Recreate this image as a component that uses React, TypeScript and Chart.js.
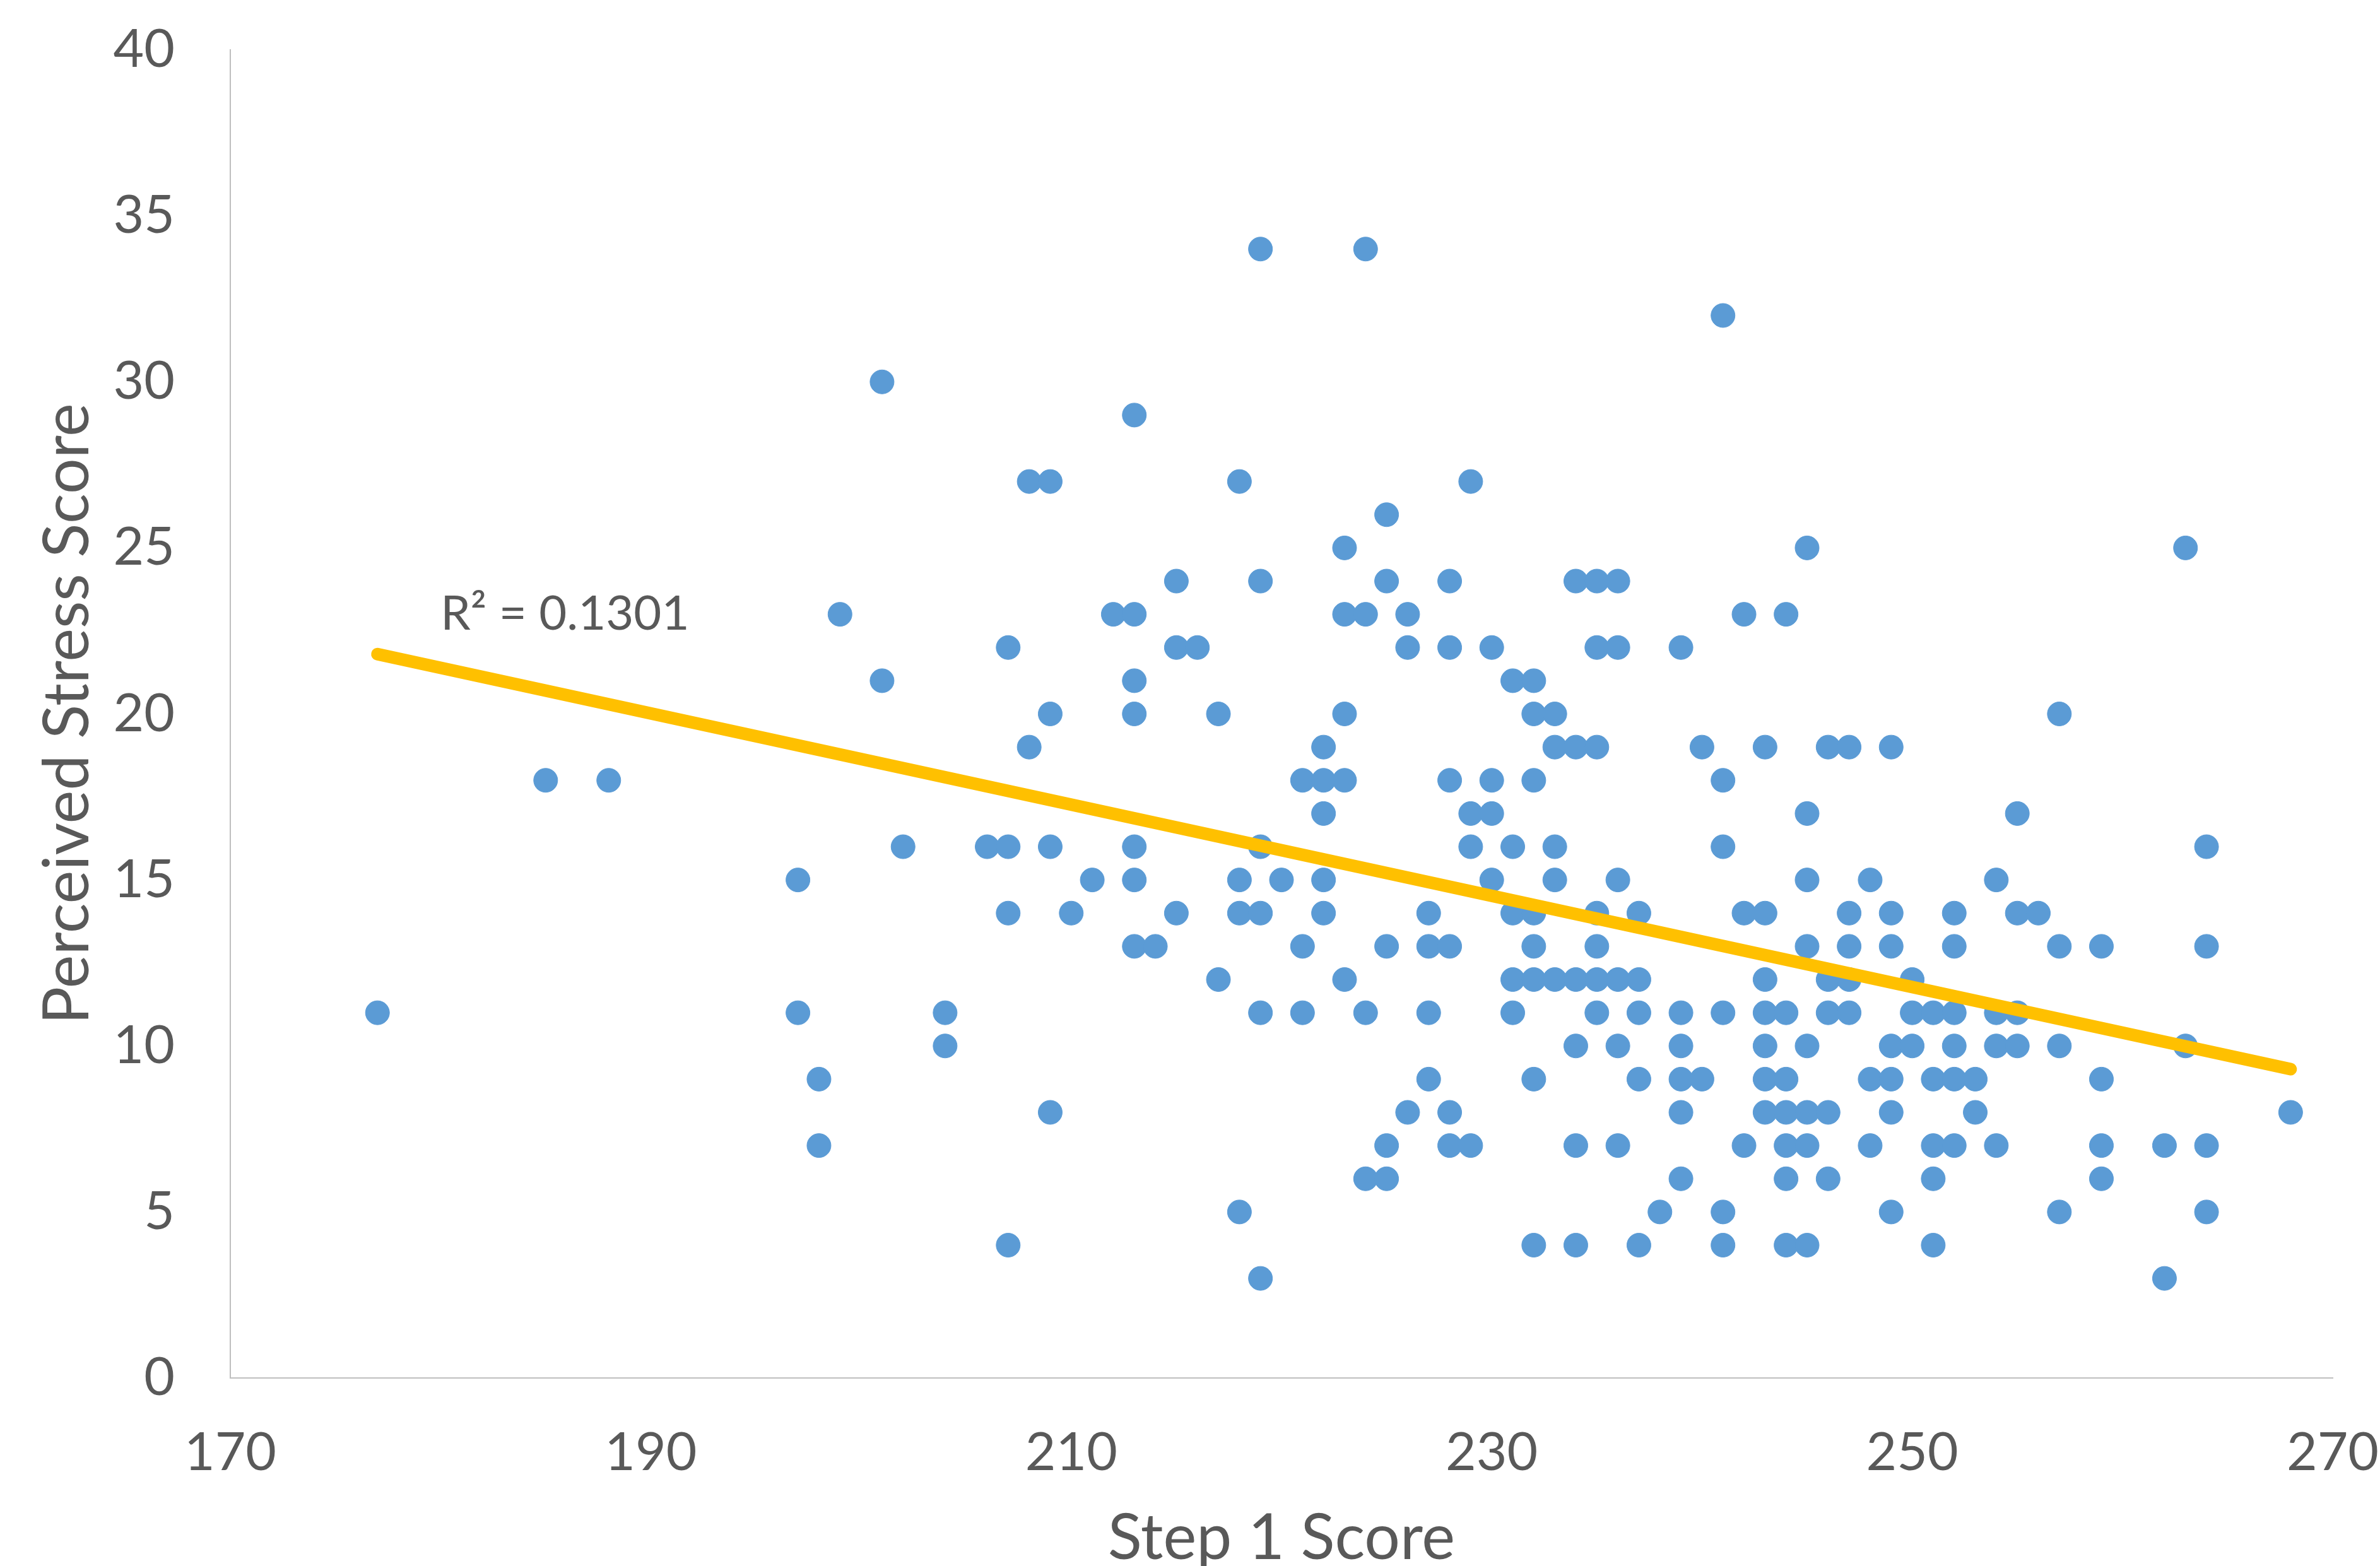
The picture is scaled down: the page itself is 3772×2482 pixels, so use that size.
import React, { useEffect, useRef } from "react";
import { Chart, registerables } from "chart.js";

Chart.register(...registerables);

// Step 1 score (x) for each respondent
const stepScores = [
  177,
  185,
  188,
  197, 197,
  198, 198,
  199,
  201, 201,
  202,
  204, 204,
  206,
  207, 207, 207, 207,
  208, 208,
  209, 209, 209, 209,
  210,
  211,
  212,
  213, 213, 213, 213, 213, 213, 213,
  214,
  215, 215, 215,
  216,
  217, 217,
  218, 218, 218, 218,
  219, 219, 219, 219, 219, 219,
  220,
  221, 221, 221,
  222, 222, 222, 222, 222,
  223, 223, 223, 223, 223,
  224, 224, 224, 224,
  225, 225, 225, 225, 225,
  226, 226, 226,
  227, 227, 227, 227,
  228, 228, 228, 228, 228, 228,
  229, 229, 229, 229,
  230, 230, 230, 230,
  231, 231, 231, 231, 231,
  232, 232, 232, 232, 232, 232, 232, 232,
  233, 233, 233, 233, 233,
  234, 234, 234, 234, 234, 234,
  235, 235, 235, 235, 235, 235, 235,
  236, 236, 236, 236, 236, 236,
  237, 237, 237, 237, 237,
  238,
  239, 239, 239, 239, 239, 239,
  240, 240,
  241, 241, 241, 241, 241, 241,
  242, 242, 242,
  243, 243, 243, 243, 243, 243, 243,
  244, 244, 244, 244, 244, 244, 244,
  245, 245, 245, 245, 245, 245, 245, 245,
  246, 246, 246, 246, 246,
  247, 247, 247, 247, 247,
  248, 248, 248,
  249, 249, 249, 249, 249, 249, 249,
  250, 250, 250,
  251, 251, 251, 251, 251,
  252, 252, 252, 252, 252, 252,
  253, 253,
  254, 254, 254, 254,
  255, 255, 255, 255,
  256,
  257, 257, 257, 257,
  259, 259, 259, 259,
  262, 262,
  263, 263,
  264, 264, 264, 264,
  268,
];

// Perceived stress score (y), same order as stepScores
const stressScores = [
  11,
  18,
  18,
  15, 11,
  9, 7,
  23,
  30, 21,
  16,
  11, 10,
  16,
  16, 14, 22, 4,
  27, 19,
  27, 20, 16, 8,
  14,
  15,
  23,
  29, 23, 21, 20, 16, 15, 13,
  13,
  24, 22, 14,
  22,
  20, 12,
  27, 15, 14, 5,
  34, 24, 16, 14, 11, 3,
  15,
  18, 13, 11,
  19, 18, 17, 15, 14,
  25, 23, 20, 18, 12,
  34, 23, 11, 6,
  26, 24, 13, 7, 6,
  23, 22, 8,
  14, 13, 11, 9,
  24, 22, 18, 13, 8, 7,
  27, 17, 16, 7,
  22, 18, 17, 15,
  21, 16, 14, 12, 11,
  21, 20, 18, 14, 13, 12, 9, 4,
  20, 19, 16, 15, 12,
  24, 19, 12, 10, 7, 4,
  24, 22, 19, 14, 13, 12, 11,
  24, 22, 15, 12, 10, 7,
  14, 12, 11, 9, 4,
  5,
  22, 11, 10, 9, 8, 6,
  19, 9,
  32, 18, 16, 11, 5, 4,
  23, 14, 7,
  19, 14, 12, 11, 10, 9, 8,
  23, 11, 9, 8, 7, 6, 4,
  25, 17, 15, 13, 10, 8, 7, 4,
  19, 12, 11, 8, 6,
  19, 14, 13, 12, 11,
  15, 9, 7,
  19, 14, 13, 10, 9, 8, 5,
  12, 11, 10,
  11, 9, 7, 6, 4,
  14, 13, 11, 10, 9, 7,
  9, 8,
  15, 11, 10, 7,
  17, 14, 11, 10,
  14,
  20, 13, 10, 5,
  13, 9, 7, 6,
  7, 3,
  25, 10,
  16, 13, 7, 5,
  8,
];

// Linear trend line end points (as drawn in the reference)
const trendX = [177, 268];
const trendY = [21.8, 9.3];

const xTickValues = [170, 190, 210, 230, 250, 270];
const yTickValues = [0, 5, 10, 15, 20, 25, 30, 35, 40];

const rSquaredText = "R\u00B2 = 0.1301";
const rSquaredAnchor = { x: 180, y: 23 };

const xTitle = "Step 1 Score";
const yTitle = "Perceived Stress Score";

const TEXT = "#595959";
const AXIS = "#BFBFBF";
const FONT = "Lato, 'Open Sans', sans-serif";

const W = 3772;
const H = 2482;

export default function App() {
  const ref = useRef<HTMLCanvasElement | null>(null);

  useEffect(() => {
    if (!ref.current) return;

    const rSquaredPlugin = {
      id: "rSquaredLabel",
      afterDatasetsDraw(chart: any) {
        const { ctx, scales } = chart;
        const px = scales.x.getPixelForValue(rSquaredAnchor.x);
        const py = scales.y.getPixelForValue(rSquaredAnchor.y);
        ctx.save();
        ctx.font = `76px ${FONT}`;
        ctx.fillStyle = TEXT;
        ctx.textAlign = "left";
        ctx.textBaseline = "middle";
        ctx.fillText(rSquaredText, px, py);
        ctx.restore();
      },
    };

    const chart = new Chart(ref.current, {
      type: "scatter",
      data: {
        datasets: [
          {
            label: "Trend",
            data: trendX.map((x, i) => ({ x, y: trendY[i] })),
            showLine: true,
            borderColor: "#FFC000",
            backgroundColor: "#FFC000",
            borderWidth: 20,
            borderCapStyle: "round",
            pointRadius: 0,
            pointHoverRadius: 0,
            order: 0,
          },
          {
            label: "Scores",
            data: stepScores.map((x, i) => ({ x, y: stressScores[i] })),
            backgroundColor: "#5B9BD5",
            borderColor: "#5B9BD5",
            borderWidth: 1,
            pointRadius: 19,
            pointHoverRadius: 19,
            order: 1,
          },
        ],
      },
      options: {
        animation: false,
        responsive: true,
        maintainAspectRatio: false,
        devicePixelRatio: 1,
        layout: { padding: { left: 0, top: 79, right: 75, bottom: 0 } },
        plugins: {
          legend: { display: false },
          tooltip: { enabled: false },
        },
        scales: {
          x: {
            type: "linear",
            min: 170,
            max: 270,
            afterBuildTicks: (scale: any) => {
              scale.ticks = xTickValues.map((v) => ({ value: v }));
            },
            afterFit: (scale: any) => {
              scale.height = 298;
              scale.paddingLeft = 0;
              scale.paddingRight = 0;
              scale.paddingTop = 0;
              scale.paddingBottom = 0;
            },
            grid: { display: false, drawTicks: false },
            border: { display: true, color: AXIS, width: 2 },
            ticks: {
              color: TEXT,
              font: { family: FONT, size: 84 },
              padding: 69,
              maxRotation: 0,
              autoSkip: false,
            },
            title: {
              display: true,
              text: xTitle,
              color: TEXT,
              font: { family: FONT, size: 100, lineHeight: 0.86 },
              padding: { top: 0, bottom: 0 },
            },
          },
          y: {
            type: "linear",
            min: 0,
            max: 40,
            afterBuildTicks: (scale: any) => {
              scale.ticks = yTickValues.map((v) => ({ value: v }));
            },
            afterFit: (scale: any) => {
              scale.width = 365;
              scale.paddingLeft = 0;
              scale.paddingRight = 0;
              scale.paddingTop = 0;
              scale.paddingBottom = 0;
            },
            grid: { display: false, drawTicks: false },
            border: { display: true, color: AXIS, width: 2 },
            ticks: {
              color: TEXT,
              font: { family: FONT, size: 84 },
              padding: 88,
              autoSkip: false,
            },
            title: {
              display: true,
              text: yTitle,
              color: TEXT,
              font: { family: FONT, size: 100, lineHeight: 1.2 },
              padding: { top: 48, bottom: 0 },
            },
          },
        },
      },
      plugins: [rSquaredPlugin],
    });

    return () => chart.destroy();
  }, []);

  return (
    <div
      style={{
        position: "absolute",
        left: 0,
        top: 0,
        width: W,
        height: H,
        background: "#ffffff",
      }}
    >
      <canvas ref={ref} />
    </div>
  );
}
